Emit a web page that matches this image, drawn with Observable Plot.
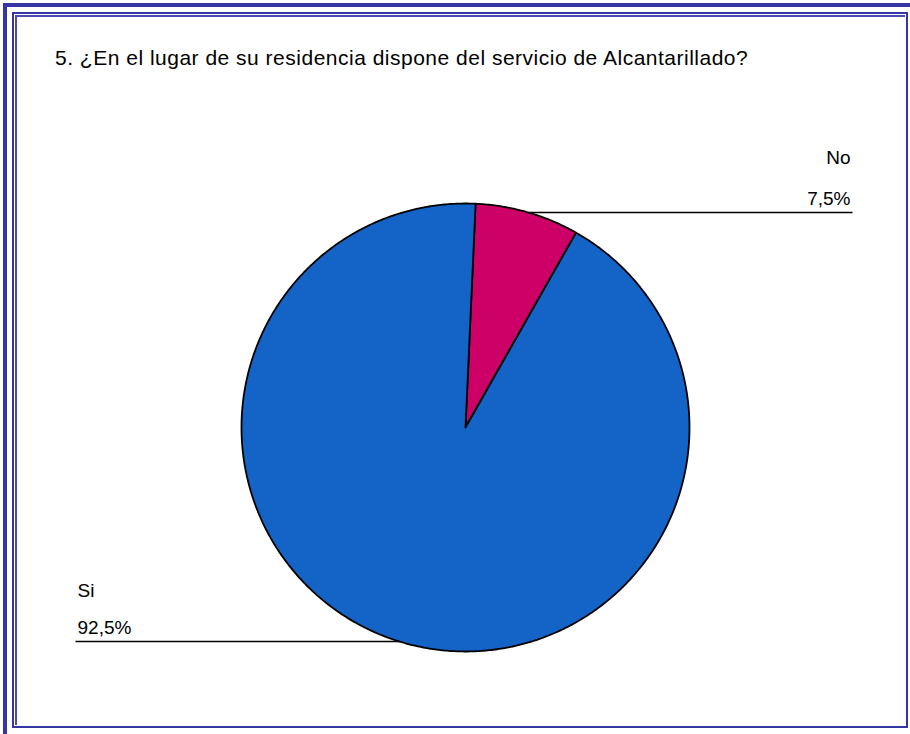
<!DOCTYPE html>
<html>
<head>
<meta charset="utf-8">
<script src="https://cdn.jsdelivr.net/npm/d3@7"></script>
<script src="https://cdn.jsdelivr.net/npm/@observablehq/plot@0.6"></script>
<style>
  html, body { margin: 0; padding: 0; background: #fff; }
  #wrap { position: relative; width: 910px; height: 734px; overflow: hidden; font-family: "Liberation Sans", Arial, sans-serif; }
  .b { position: absolute; box-sizing: border-box; }
  #b1 { left: 3px; top: 3px; width: 920px; height: 740px; border: 4px solid #3535a5; }
  #b2 { left: 12px; top: 12px; width: 896px; height: 716px; border: 2px solid #3535a5; }
  #b3 { left: 15px; top: 15px; width: 890px; height: 710px; border-left: 2px solid #4a4ab0; border-top: 2px solid #4a4ab0; }
  #title { position: absolute; left: 55px; top: 46px; font-size: 21px; line-height: 24px; letter-spacing: 0.5px; color: #000; white-space: nowrap; }
  #chart { position: absolute; left: 0; top: 0; }
</style>
</head>
<body>
<div id="wrap">
  <div class="b" id="b1"></div>
  <div class="b" id="b2"></div>
  <div class="b" id="b3"></div>
  <div id="chart"></div>
  <div id="title">5. ¿En el lugar de su residencia dispone del servicio de Alcantarillado?</div>
</div>
<script>
// ---- data ----
const categories = ["No", "Si"];
const values = [7.5, 92.5];
const valueLabels = ["7,5%", "92,5%"];
const colors = ["#cc0066", "#1464c8"];

// ---- layout (pixels relative to pie centre, y up) ----
const W = 910, H = 734;
const cx = 465, cy = 427, R = 224;
const startAngle = 0.045;
const labelX = [385, -388];
const labelAnchor = ["end", "start"];
const nameY = [270, -163];
const valueY = [229, -200];
const leaderY = [215, -214];
const leaderEndX = [387, -390];

const arcs = d3.pie().sort(null).startAngle(startAngle).endAngle(startAngle + 2 * Math.PI)(values);

const poly = [];
arcs.forEach((a, i) => {
  const cat = categories[i];
  poly.push({cat, x: 0, y: 0});
  const n = Math.max(8, Math.ceil((a.endAngle - a.startAngle) / (Math.PI / 360)));
  for (let k = 0; k <= n; k++) {
    const t = a.startAngle + (a.endAngle - a.startAngle) * k / n;
    poly.push({cat, x: R * Math.sin(t), y: R * Math.cos(t)});
  }
  poly.push({cat, x: 0, y: 0});
});

const textData = categories.map((c, i) => ({cat: c, val: valueLabels[i], x: labelX[i], ny: nameY[i], vy: valueY[i], anchor: labelAnchor[i]}));
const leaders = categories.map((c, i) => {
  const yy = leaderY[i];
  const xx = Math.sqrt(Math.max(0, R * R - yy * yy)) * Math.sign(leaderEndX[i]);
  return {cat: c, x1: xx, x2: leaderEndX[i], y: yy};
});

const txt = (anchor, ykey, tkey) => Plot.text(textData.filter(d => d.anchor === anchor),
  {x: "x", y: ykey, text: tkey, textAnchor: anchor, fontSize: 19, fill: "black", fontFamily: "Liberation Sans, Arial, sans-serif"});

const plot = Plot.plot({
  width: W, height: H,
  marginTop: 0, marginBottom: 0, marginLeft: 0, marginRight: 0,
  x: {domain: [-cx, W - cx], axis: null},
  y: {domain: [-(H - cy), cy], axis: null},
  color: {domain: categories, range: colors},
  style: {background: "transparent", fontFamily: "Liberation Sans, Arial, sans-serif"},
  marks: [
    Plot.line(poly, {x: "x", y: "y", z: "cat", fill: "cat", stroke: "black", strokeWidth: 1.8, strokeLinejoin: "round"}),
    Plot.link(leaders, {x1: "x1", x2: "x2", y1: "y", y2: "y", stroke: "black", strokeWidth: 1.3}),
    txt("end", "ny", "cat"),
    txt("end", "vy", "val"),
    txt("start", "ny", "cat"),
    txt("start", "vy", "val")
  ]
});
document.getElementById("chart").appendChild(plot);
</script>
</body>
</html>
